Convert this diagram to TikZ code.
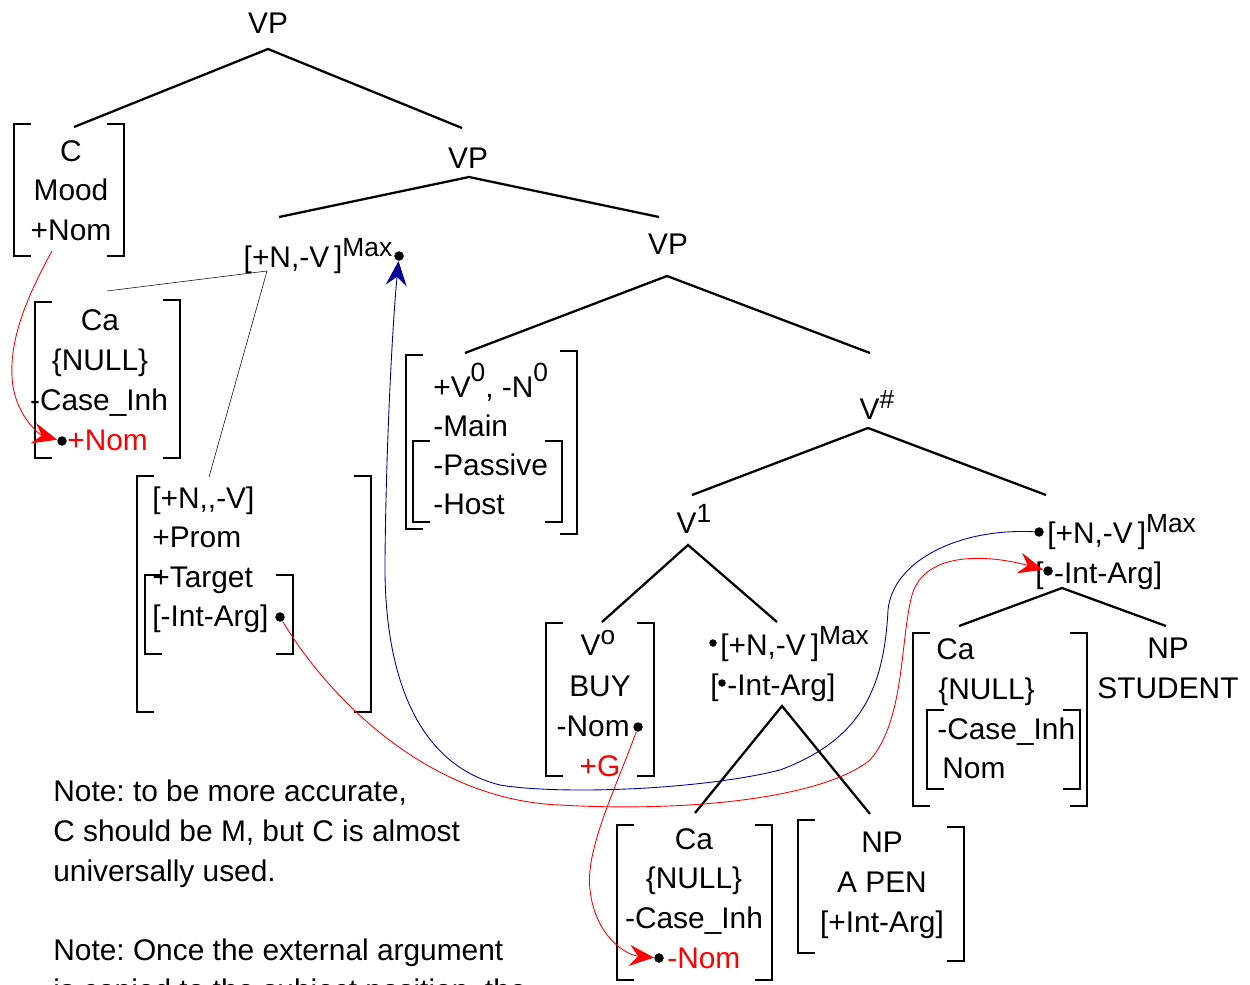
\documentclass[tikz,border=0pt]{standalone}
\usepackage{fontspec}
\setmainfont{Liberation Sans}
\frenchspacing
\usetikzlibrary{arrows.meta}
\definecolor{arcblue}{RGB}{0,0,150}
\tikzset{
    every node/.style={font=\fontsize{17}{20}\selectfont, inner sep=0pt},
    cat/.style={anchor=base},
    feat/.style={anchor=base west},
    dot/.style={circle, fill, inner sep=0pt, minimum size=0.19cm},
    small dot/.style={circle, fill, inner sep=0pt, minimum size=0.15cm},
    branch/.style={line width=1.3pt},
    brk/.style={line width=1.3pt},
    thin/.style={line width=0.3pt},
    link/.style={line width=0.5pt, -{Stealth[length=14pt, width=12pt, inset=5pt]}}
    }
\newcommand{\hisup}[2][6pt]{\raisebox{#1}{\fontsize{15}{15}\selectfont #2}}
\newcommand{\lbrk}[3]{\draw[brk] (#1+17,#2) -- (#1,#2) -- (#1,#3) -- (#1+17,#3);}
\newcommand{\rbrk}[3]{\draw[brk] (#1-17,#2) -- (#1,#2) -- (#1,#3) -- (#1-17,#3);}

\begin{document}
\begin{tikzpicture}[x=0.02cm, y=-0.02cm]
    \useasboundingbox (0,0) rectangle (1250,984);

    % categories
    \node(vpA)[cat] at (268,33) {VP};
    \node(vpB)[cat] at (468,168) {VP};
    \node(vpC)[cat] at (668,254) {VP};
    \node(vhash)[cat] at (877,419) {V\hisup{\#}};
    \node(vone)[cat] at (694,533) {V\hisup{1}};
    \node(maxL)[cat] at (318,267) {[+N,-V\,]\hisup{Max}};
    \node(maxLdot)[dot] at (399,256) {};

    % C box
    \lbrk{14}{124}{256} \rbrk{124}{124}{256}
    \node(cC)[cat] at (71,161) {C};
    \node(cMood)[cat] at (71,200) {Mood};
    \node(cNom)[cat] at (71,240) {+Nom};

    % Ca box, left
    \lbrk{35}{302}{458} \rbrk{180}{300}{458}
    \node(caLa)[cat] at (100,330) {Ca};
    \node(caLb)[cat] at (100,370) {\{NULL\}};
    \node(caLc)[cat] at (99,410) {-Case\_Inh};
    \node(caLd)[feat, red] at (67,450) {+Nom};
    \node(nomLdot)[dot] at (62,441) {};

    % big box
    \lbrk{137}{476}{712} \rbrk{371}{476}{712}
    \lbrk{145}{575}{654} \rbrk{293}{575}{654}
    \node(bigA)[feat] at (152,508) {[+N,{},-V]};
    \node(bigB)[feat] at (152,547) {+Prom};
    \node(bigC)[feat] at (152,587) {+Target};
    \node(bigD)[feat] at (152,626) {[-Int-Arg]};
    \node(intLdot)[dot] at (280,617) {};

    % aux box
    \lbrk{406}{355}{529} \rbrk{577}{351}{534}
    \lbrk{413}{441}{522} \rbrk{562}{441}{522}
    \node(auxA)[feat] at (433,397) {+V\hisup[9pt]{0}, -N\hisup[9pt]{0}};
    \node(auxB)[feat] at (433,436) {-Main};
    \node(auxC)[feat] at (433,475) {-Passive};
    \node(auxD)[feat] at (433,514) {-Host};

    % V0 box
    \lbrk{546}{623}{776} \rbrk{654}{623}{776}
    \node(voA)[cat] at (598,655) {V\hisup{o}};
    \node(voB)[cat] at (600,696) {BUY};
    \node(voC)[cat, anchor=base east] at (630,736) {-Nom};
    \node(nomVdot)[dot] at (638,727) {};
    \node(voD)[cat, red] at (600,776) {+G};

    % middle Max
    \node(maxMdot)[small dot] at (713,643) {};
    \node(maxM)[feat] at (720,655) {[+N,-V\,]\hisup{Max}};
    \node(intM)[feat] at (710,695) {[\hspace{5pt}-Int-Arg]};
    \node(intMdot)[small dot] at (722,683) {};

    % Ca box, bottom
    \lbrk{617}{825}{980} \rbrk{772}{825}{980}
    \node(caBa)[cat] at (694,849) {Ca};
    \node(caBb)[cat] at (694,888) {\{NULL\}};
    \node(caBc)[cat] at (694,928) {-Case\_Inh};
    \node(caBd)[feat, red] at (667,968) {-Nom};
    \node(nomBdot)[dot] at (659,958) {};

    % NP box, bottom
    \lbrk{798}{820}{953} \rbrk{964}{827}{961}
    \node(penA)[cat] at (882,852) {NP};
    \node(penB)[cat] at (882,892) {A PEN};
    \node(penC)[cat] at (882,932) {[+Int-Arg]};

    % right Max
    \node(maxRdot)[dot] at (1039,532) {};
    \node(maxR)[feat] at (1047,543) {[+N,-V\,]\hisup{Max}};
    \node(intR)[feat] at (1035,583) {[\hspace{6pt}-Int-Arg]};
    \node(intRdot)[dot] at (1048,571) {};

    % Ca box, right
    \lbrk{913}{633}{806} \rbrk{1087}{633}{806}
    \lbrk{927}{710}{789} \rbrk{1080}{710}{789}
    \node(caRa)[feat] at (936,659) {Ca};
    \node(caRb)[feat] at (938,699) {\{NULL\}};
    \node(caRc)[feat] at (937,739) {-Case\_Inh};
    \node(caRd)[feat] at (942,778) {Nom};
    \node(studA)[cat] at (1168,658) {NP};
    \node(studB)[cat] at (1168,698) {STUDENT};

    % notes
    \node(noteA)[feat] at (53,801) {Note: to be more accurate,};
    \node(noteB)[feat] at (53,841) {C should be M, but C is almost};
    \node(noteC)[feat] at (53,881) {universally used.};
    \node(noteD)[feat] at (53,960) {Note: Once the external argument};
    \node(noteE)[feat] at (53,1000) {is copied to the subject position, the};

    % branch ends
    \coordinate(vpA-f) at (268,49);
    \coordinate(cbox-t) at (74,127);
    \coordinate(vpB-t) at (462,128);
    \coordinate(vpB-f) at (469,177);
    \coordinate(maxL-t) at (279,217);
    \coordinate(vpC-t) at (659,217);
    \coordinate(vpC-f) at (667,276);
    \coordinate(aux-t) at (465,353);
    \coordinate(vhash-t) at (870,353);
    \coordinate(vhash-f) at (868,428);
    \coordinate(vone-t) at (692,495);
    \coordinate(maxR-t) at (1046,495);
    \coordinate(vone-f) at (688,545);
    \coordinate(vo-t) at (602,622);
    \coordinate(maxM-t) at (777,622);
    \coordinate(maxM-f) at (782,706);
    \coordinate(caB-t) at (695,813);
    \coordinate(pen-t) at (870,814);
    \coordinate(maxR-f) at (1062,588);
    \coordinate(caR-t) at (959,626);
    \coordinate(stud-t) at (1166,626);
    \coordinate(maxL-f) at (267,271);
    \coordinate(caL-t) at (107,291);
    \coordinate(big-t) at (209,477);
    \coordinate(cNom-s) at (52,251);

    \draw[branch] (cbox-t) -- (vpA-f) -- (vpB-t);
    \draw[branch] (maxL-t) -- (vpB-f) -- (vpC-t);
    \draw[branch] (aux-t) -- (vpC-f) -- (vhash-t);
    \draw[branch] (vone-t) -- (vhash-f) -- (maxR-t);
    \draw[branch] (vo-t) -- (vone-f) -- (maxM-t);
    \draw[branch] (caB-t) -- (maxM-f) -- (pen-t);
    \draw[branch] (caR-t) -- (maxR-f) -- (stud-t);
    \draw[thin] (caL-t) -- (maxL-f) -- (big-t);

    % movement arcs
    \draw[link, red] (cNom-s) .. controls (25,300) and (10,340) .. (12,377)
        .. controls (14,415) and (40,435) .. (nomLdot);
    \draw[link, arcblue] (maxRdot) .. controls (960,528) and (893,560) .. (888,610)
        .. controls (884,690) and (860,740) .. (780,770)
        .. controls (700,790) and (560,795) .. (500,785)
        .. controls (400,760) and (384,640) .. (385,560)
        .. controls (386,450) and (392,330) .. (maxLdot);
    \draw[link, red] (intLdot) .. controls (330,700) and (430,800) .. (560,805)
        .. controls (680,812) and (820,800) .. (870,760)
        .. controls (905,720) and (900,640) .. (912,595)
        .. controls (925,550) and (990,555) .. (intRdot);
    \draw[link, red] (nomVdot) .. controls (615,790) and (585,850) .. (590,890)
        .. controls (595,935) and (625,955) .. (nomBdot);
\end{tikzpicture}
\end{document}
